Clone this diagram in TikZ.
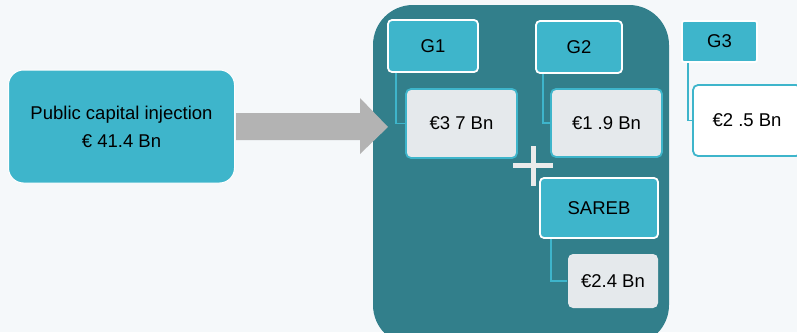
\documentclass[tikz,border=0pt]{standalone}
\usepackage{fontspec}
\setmainfont{Liberation Sans}
\usetikzlibrary{calc, positioning}
\definecolor{bgcol}{HTML}{F5F8FA}
\definecolor{tealL}{HTML}{3EB5CB}
\definecolor{tealD}{HTML}{327F8B}
\definecolor{arrowgr}{HTML}{B3B3B3}
\definecolor{valgr}{HTML}{E5E9EC}
\tikzset{
  txt/.style={font=\fontsize{18.5}{28}\selectfont, text=black, inner sep=0pt},
  bank/.style={txt, draw=white, line width=1.8pt, fill=tealL, rounded corners=4pt},
  amount/.style={txt, draw=tealL, line width=1.8pt, fill=valgr, rounded corners=5pt},
  conn/.style={draw=tealL, line width=1.6pt}
}

\begin{document}
\begin{tikzpicture}[x=1pt,y=-1pt]
\useasboundingbox (0,0) rectangle (797,332);
\clip (0,0) rectangle (797,332);
\fill[bgcol] (0,0) rectangle (797,332);
% injection box
\node[txt, draw=white, line width=1pt, fill=tealL, rounded corners=15pt,
  minimum width=226pt, minimum height=113pt, align=center] (pci) at (121.5,126.5)
  {Public capital injection\\€ 41.4 Bn};
% group of banks
\node[fill=tealD, rounded corners=40pt, minimum width=296pt, minimum height=340pt] (grp) at (521,175) {};
\fill[arrowgr] (236,113) -- (360,113) -- (360,98) -- (388,127) -- (360,154) -- (360,140) -- (236,140) -- cycle;
\node[bank, minimum width=90pt, minimum height=52pt] (g1) at (433,46) {G1};
\node[amount, minimum width=111pt, minimum height=69pt] (v1) at (461.5,123.5) {€3 7 Bn};
\node[bank, minimum width=86pt, minimum height=52pt] (g2) at (579,47) {G2};
\node[amount, minimum width=111pt, minimum height=68pt] (v2) at (606.5,123) {€1 .9 Bn};
\node[bank, minimum width=118pt, minimum height=60pt] (sareb) at (599,208) {SAREB};
\node[amount, draw=none, minimum width=90pt, minimum height=54pt] (v3) at (613,281) {€2.4 Bn};
\draw[conn] ([xshift=9pt]g1.south west) |- (v1.west);
\draw[conn] ([xshift=8pt]g2.south west) |- (v2.west);
\draw[conn] ([xshift=12pt]sareb.south west) |- (v3.west);
% plus sign
\draw[line width=5pt, color=black!8] (513,165) -- (553,165) (533,146) -- (533,186);
% outside the group
\node[bank, minimum width=75pt, minimum height=41pt, rounded corners=2pt] (g3) at (719.5,41.5) {G3};
\node[amount, fill=white, minimum width=108pt, minimum height=71pt] (v4) at (747,120.5) {€2 .5 Bn};
\draw[conn] ([xshift=7pt]g3.south west) |- (v4.west);
\end{tikzpicture}
\end{document}
